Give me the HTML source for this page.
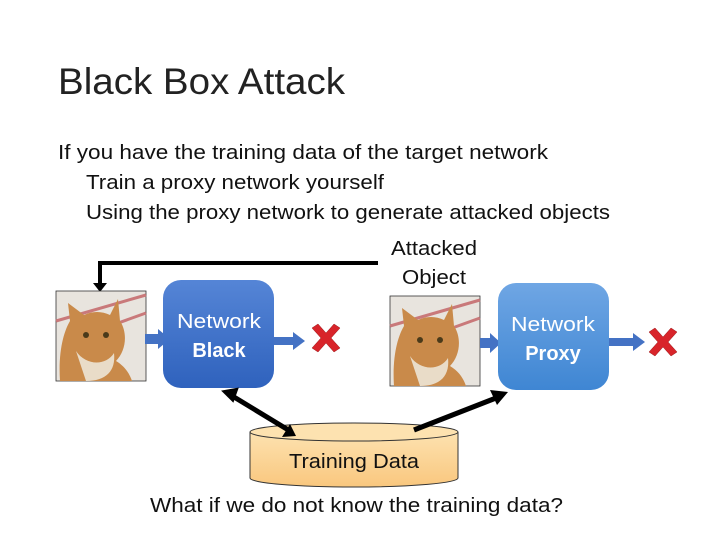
<!DOCTYPE html>
<html><head><meta charset="utf-8"><style>
html,body{margin:0;padding:0;background:#fff;}
svg{display:block;font-family:"Liberation Sans",sans-serif;}
</style></head><body>
<svg width="720" height="540" viewBox="0 0 720 540" xmlns="http://www.w3.org/2000/svg">
<defs>
<linearGradient id="gb" x1="0" y1="0" x2="0" y2="1"><stop offset="0" stop-color="#5585d6"/><stop offset="1" stop-color="#2f62bd"/></linearGradient>
<linearGradient id="gp" x1="0" y1="0" x2="0" y2="1"><stop offset="0" stop-color="#6fa6e4"/><stop offset="1" stop-color="#3f86d3"/></linearGradient>
<linearGradient id="gc" x1="0" y1="0" x2="0" y2="1"><stop offset="0" stop-color="#fde2b0"/><stop offset="1" stop-color="#f9c77e"/></linearGradient>
<g id="cat">
<rect x="0" y="0" width="90" height="90" fill="#e8e4de" stroke="#333" stroke-width="0.8"/>
<path d="M0,30 L90,4" stroke="#c9797a" stroke-width="3"/>
<path d="M40,40 L90,22" stroke="#c9797a" stroke-width="3"/>
<path d="M4,90 C2,60 8,40 14,30 L12,12 L28,24 C36,20 46,20 54,24 L62,8 L64,30 C72,42 70,60 60,70 C70,76 74,84 76,90 Z" fill="#c98a4a"/>
<path d="M20,60 C30,75 50,75 58,62 C60,80 50,90 30,90 Z" fill="#e9dcc8"/>
<circle cx="30" cy="44" r="3" fill="#4a3a1a"/><circle cx="50" cy="44" r="3" fill="#4a3a1a"/>
</g>
<g id="x"><path d="M2,4 L8,0 L16,9 L24,0 L30,4 L21,14 L30,24 L24,28 L16,19 L8,28 L2,24 L11,14 Z" fill="#d8242a" stroke="#9a1a1a" stroke-width="0.5"/></g>
</defs>
<text x="58" y="94" font-size="37" fill="#222" textLength="287" lengthAdjust="spacingAndGlyphs">Black Box Attack</text>
<g font-size="20" fill="#111" lengthAdjust="spacingAndGlyphs">
<text x="58" y="159" textLength="490" lengthAdjust="spacingAndGlyphs">If you have the training data of the target network</text>
<text x="86" y="189" textLength="298" lengthAdjust="spacingAndGlyphs">Train a proxy network yourself</text>
<text x="86" y="219" textLength="524" lengthAdjust="spacingAndGlyphs">Using the proxy network to generate attacked objects</text>
<text x="391" y="255" textLength="86" lengthAdjust="spacingAndGlyphs">Attacked</text>
<text x="402" y="284" textLength="64" lengthAdjust="spacingAndGlyphs">Object</text>
</g>
<path d="M378,263 L100,263 L100,284" fill="none" stroke="#000" stroke-width="4"/>
<path d="M93,283 L107,283 L100,292 Z" fill="#000"/>
<use href="#cat" x="56" y="291"/>
<use href="#cat" x="390" y="296"/>
<path d="M145,334 L158,334 L158,329 L170,339 L158,349 L158,344 L145,344 Z" fill="#4472c4"/>
<rect x="163" y="280" width="111" height="108" rx="18" fill="url(#gb)"/>
<text x="177" y="328" font-size="20" fill="#fff" textLength="84" lengthAdjust="spacingAndGlyphs">Network</text>
<text x="219" y="357" text-anchor="middle" font-size="20" font-weight="bold" fill="#fff">Black</text>
<path d="M274,337 L293,337 L293,332 L305,341 L293,350 L293,345 L274,345 Z" fill="#4472c4"/>
<use href="#x" x="310" y="324"/>
<path d="M480,338 L490,338 L490,333 L501,343 L490,353 L490,348 L480,348 Z" fill="#4472c4"/>
<rect x="498" y="283" width="111" height="107" rx="18" fill="url(#gp)"/>
<text x="511" y="331" font-size="20" fill="#fff" textLength="84" lengthAdjust="spacingAndGlyphs">Network</text>
<text x="553" y="360" text-anchor="middle" font-size="20" font-weight="bold" fill="#fff">Proxy</text>
<path d="M609,338 L633,338 L633,333 L645,342 L633,351 L633,346 L609,346 Z" fill="#4472c4"/>
<use href="#x" x="647" y="328"/>
<path d="M250,432 L250,478 A104,9 0 0 0 458,478 L458,432" fill="url(#gc)" stroke="#333" stroke-width="1"/>
<ellipse cx="354" cy="432" rx="104" ry="9" fill="#fde2b0" stroke="#333" stroke-width="1"/>
<text x="289" y="468" font-size="20" fill="#111" textLength="130" lengthAdjust="spacingAndGlyphs">Training Data</text>
<line x1="234" y1="397" x2="290" y2="431" stroke="#000" stroke-width="5"/>
<path d="M222,389 L240,389 L232,403 Z" fill="#000" transform="rotate(-10 231 395)"/>
<path d="M296,436 L282,437 L290,424 Z" fill="#000"/>
<line x1="414" y1="430" x2="496" y2="398" stroke="#000" stroke-width="5"/>
<path d="M508,392 L490,390 L497,405 Z" fill="#000"/>
<text x="150" y="512" font-size="20" fill="#111" textLength="413" lengthAdjust="spacingAndGlyphs">What if we do not know the training data?</text>
</svg>
</body></html>
